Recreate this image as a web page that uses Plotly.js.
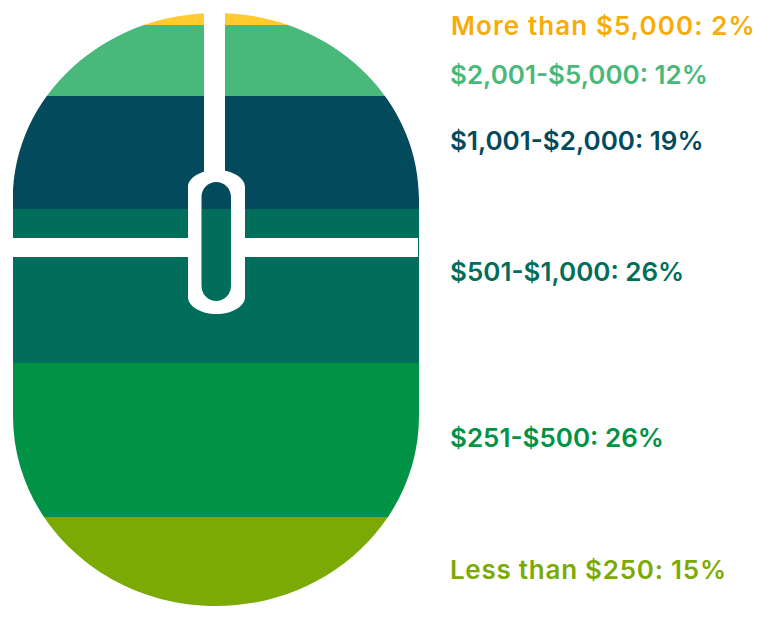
<!DOCTYPE html>
<html>
<head>
<meta charset="utf-8">
<script src="https://cdn.plot.ly/plotly-3.0.1.min.js"></script>
<style>
html,body{margin:0;padding:0;background:#fff}
.annotation[data-index="0"] text{letter-spacing:.75px}
.annotation[data-index="5"] text{letter-spacing:1.1px}
</style>
</head>
<body>
<div id="chart" style="width:768px;height:620px"></div>
<script>
const categories = ['Less than $250', '$251-$500', '$501-$1,000', '$1,001-$2,000', '$2,001-$5,000', 'More than $5,000'];
const shares = [15, 26, 26, 19, 12, 2];
const barColors = ['#7CAA04', '#009245', '#006E5B', '#024A5C', '#48B97A', '#FFCB31'];
const textColors = ['#7CAA04', '#009245', '#006E5B', '#024A5C', '#48B97A', '#F7AC08'];

const W = 768, H = 620;
const L = 13, R = 419, T = 13, B = 606;
const labelX = 448;
const labelYs = [570, 438, 272, 141, 74, 26];
const labelShifts = [7, 0, 0, 0, 0, 12];
const px = x => ((x - L) / (R - L)).toFixed(5);
const py = y => ((B - y) / (B - T)).toFixed(5);
const P = (x, y) => px(x) + ',' + py(y);
const K = 0.5523;

function ellipseBody() {
  const cx = 216, rx = 203, up = 199, down = 416, ryU = up - T, ryD = B - down;
  return 'M' + P(L, down) + ' L' + P(L, up) +
    ' C' + P(L, up - K * ryU) + ' ' + P(cx - K * rx, T) + ' ' + P(cx, T) +
    ' C' + P(cx + K * rx, T) + ' ' + P(R, up - K * ryU) + ' ' + P(R, up) +
    ' L' + P(R, down) +
    ' C' + P(R, down + K * ryD) + ' ' + P(cx + K * rx, B) + ' ' + P(cx, B) +
    ' C' + P(cx - K * rx, B) + ' ' + P(L, down + K * ryD) + ' ' + P(L, down) + ' Z';
}
function capsule(x0, x1, y0, y1, ry) {
  const cx = (x0 + x1) / 2, rx = (x1 - x0) / 2;
  return 'M' + P(x0, y1 - ry) + ' L' + P(x0, y0 + ry) +
    ' C' + P(x0, y0 + ry - K * ry) + ' ' + P(cx - K * rx, y0) + ' ' + P(cx, y0) +
    ' C' + P(cx + K * rx, y0) + ' ' + P(x1, y0 + ry - K * ry) + ' ' + P(x1, y0 + ry) +
    ' L' + P(x1, y1 - ry) +
    ' C' + P(x1, y1 - ry + K * ry) + ' ' + P(cx + K * rx, y1) + ' ' + P(cx, y1) +
    ' C' + P(cx - K * rx, y1) + ' ' + P(x0, y1 - ry + K * ry) + ' ' + P(x0, y1 - ry) + ' Z';
}
const outerRect = 'M-0.01,-0.01 L1.01,-0.01 L1.01,1.01 L-0.01,1.01 Z ';
const base = {type: 'path', xref: 'paper', yref: 'paper', line: {width: 0}, fillcolor: '#fff', layer: 'above'};
const rect = (x0, x1, y0, y1) => ({type: 'rect', xref: 'paper', yref: 'paper', x0: +px(x0), x1: +px(x1),
  y0: +py(y1), y1: +py(y0), line: {width: 0}, fillcolor: '#fff', layer: 'above'});

const shapes = [
  Object.assign({}, base, {path: outerRect + ellipseBody(), fillrule: 'evenodd'}),
  rect(204, 225, 13, 172),
  rect(13, 190, 238, 257),
  rect(243, 418, 238, 257),
  Object.assign({}, base, {path: capsule(188, 245, 170, 314, 17) + ' ' + capsule(201.5, 231, 182, 301, 15), fillrule: 'evenodd'})
];

const traces = categories.map((c, i) => ({
  type: 'bar', name: c, x: ['mouse'], y: [shares[i]],
  marker: {color: barColors[i], line: {width: 0}}, hoverinfo: 'name+y'
}));

const annotations = categories.map((c, i) => ({
  xref: 'paper', yref: 'paper', x: +px(labelX), y: +py(labelYs[i]),
  xanchor: 'left', yanchor: 'middle', showarrow: false, xshift: labelShifts[i],
  text: c + ': ' + shares[i] + '%',
  font: {family: 'Inter, "Open Sans", sans-serif', size: 26, weight: 600, color: textColors[i]}
}));

Plotly.newPlot('chart', traces, {
  width: W, height: H, barmode: 'stack', bargap: 0, showlegend: false,
  margin: {l: L, r: W - R, t: T, b: H - B, pad: 0},
  paper_bgcolor: '#fff', plot_bgcolor: '#fff',
  xaxis: {visible: false, fixedrange: true},
  yaxis: {visible: false, range: [0, 100], fixedrange: true},
  shapes, annotations
}, {displayModeBar: false, staticPlot: true});
</script>
</body>
</html>
